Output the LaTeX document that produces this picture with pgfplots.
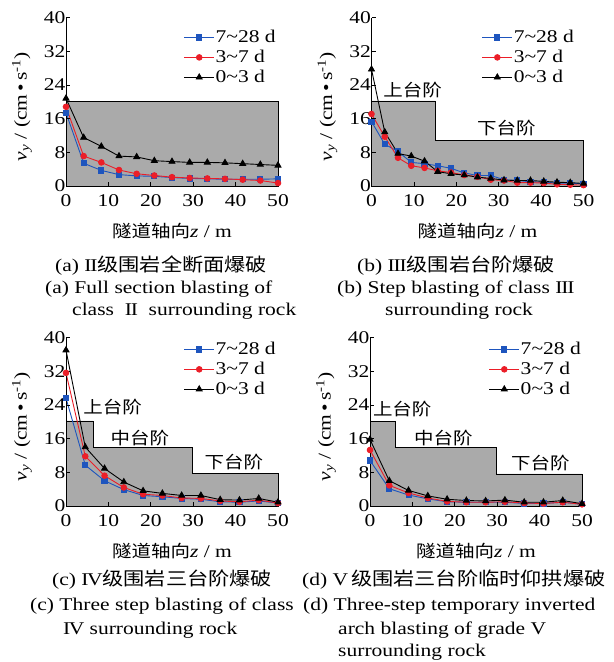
\documentclass[border=0pt]{standalone}
\usepackage{fontspec}
\setmainfont{Liberation Serif}[FakeStretch=1.2]
\newfontfamily\cjk{Noto Sans CJK SC}[FakeStretch=1.15]
\usepackage{pgfplots}
\pgfplotsset{compat=1.18}

\definecolor{serA}{RGB}{30,85,190}
\definecolor{serB}{RGB}{235,30,40}
\definecolor{zone}{RGB}{170,170,170}

\newcommand{\fs}{\fontsize{18}{21}\selectfont}
\newcommand{\fcjk}{\fontsize{17}{20}\selectfont\cjk}
\newcommand{\capcjk}{\fontsize{18.5}{21}\selectfont\cjk}
% serif roman numerals built from Latin capitals
\newcommand{\RII}{\mbox{I\kern-1.2bp I}}
\newcommand{\RIII}{\mbox{I\kern-1.2bp I\kern-1.2bp I}}
\newcommand{\RIV}{\mbox{I\kern-1.6bp V}}
\newcommand{\RV}{\mbox{V}}

\pgfplotsset{
  panel/.style={
    scale only axis, width=212bp, height=168.5bp,
    xmin=0, xmax=50, ymin=0, ymax=40,
    axis lines*=left, axis on top, clip=false,
    axis line style={line width=0.9bp, black},
    xtick={0,10,...,50}, ytick={0,8,...,40},
    tick align=inside, major tick length=4bp,
    tick style={line width=0.8bp, black},
    /pgf/number format/assume math mode=true,
    tick label style={font=\fs},
    xticklabel style={yshift=-5bp},
    yticklabel style={xshift=3bp},
    label style={font=\fs},
    xlabel={{\fcjk 隧道轴向}\textit{z} / m},
    ylabel={\textit{v}\textsubscript{\itshape y} / (cm\,•\,s\textsuperscript{-1})},
    xlabel style={at={(axis description cs:0.5,-0.267)}, anchor=center},
    ylabel style={at={(axis description cs:-0.208,0.47)}, anchor=center},
    legend style={draw=none, fill=none, anchor=north east, font=\fs,
      row sep=4bp, inner sep=0pt, nodes={inner sep=1bp}},
    legend cell align=left,
    legend image code/.code={
      \draw[mark repeat=2, mark phase=2]
        plot coordinates {(0bp,0bp) (15bp,0bp) (30bp,0bp)};},
  },
  lateage/.style={serA, line width=0.9bp, mark=square*, mark size=2.6bp, mark options={solid, fill=serA}},
  midage/.style={serB, line width=0.9bp, mark=*, mark size=2.8bp, mark options={solid, fill=serB}},
  earlyage/.style={black, line width=0.9bp, mark=triangle*, mark size=3.4bp, mark options={solid, fill=black}},
  zonefill/.style={fill=zone, draw=black, line width=0.8bp, forget plot},
}

\begin{document}
\begin{tikzpicture}[x=1bp, y=1bp]
\path[use as bounding box] (0,0) rectangle (614,-662);

% (a) full section blasting, class II
\begin{axis}[panel, at={(66bp,-186bp)}, anchor=south west,
  legend style={at={(axis description cs:0.995,0.93)}}]
  \addplot[zonefill] coordinates {(0,20) (50,20)} \closedcycle;
  \addplot[lateage] coordinates {
    (0,17.4) (4.1667,5.4) (8.3333,3.7) (12.5,2.7) (16.6667,2.4) (20.8333,2.3)
    (25,2.0) (29.1667,1.8) (33.3333,1.7) (37.5,1.6) (41.6667,1.6) (45.8333,1.6) (50,1.7)};
  \addplot[midage] coordinates {
    (0,18.8) (4.1667,7.1) (8.3333,5.6) (12.5,3.8) (16.6667,2.9) (20.8333,2.5)
    (25,2.1) (29.1667,1.9) (33.3333,1.8) (37.5,1.7) (41.6667,1.5) (45.8333,1.3) (50,0.7)};
  \addplot[earlyage] coordinates {
    (0,20.8) (4.1667,11.5) (8.3333,9.4) (12.5,7.1) (16.6667,6.9) (20.8333,6.0)
    (25,5.8) (29.1667,5.6) (33.3333,5.6) (37.5,5.5) (41.6667,5.3) (45.8333,5.1) (50,4.9)};
  \legend{7\textasciitilde 28 d, 3\textasciitilde 7 d, 0\textasciitilde 3 d}
\end{axis}

% (b) step blasting, class III
\begin{axis}[panel, at={(371.5bp,-186bp)}, anchor=south west,
  legend style={at={(axis description cs:0.96,0.93)}}]
  \addplot[zonefill] coordinates {(0,20.2) (15,20.2) (15,10.8) (50,10.8)} \closedcycle;
  \addplot[lateage] coordinates {
    (0,15.3) (3.125,9.9) (6.25,8.2) (9.375,5.6) (12.5,5.3) (15.625,4.8) (18.75,4.2)
    (21.875,3.1) (25,2.5) (28.125,2.5) (31.25,1.5) (34.375,1.3) (37.5,1.0)
    (40.625,0.9) (43.75,0.7) (46.875,0.7) (50,0.5)};
  \addplot[midage] coordinates {
    (0,17.1) (3.125,11.7) (6.25,6.7) (9.375,4.8) (12.5,4.3) (15.625,3.6) (18.75,3.2)
    (21.875,2.6) (25,2.2) (28.125,1.5) (31.25,1.3) (34.375,0.8) (37.5,0.8)
    (40.625,0.7) (43.75,0.4) (46.875,0.3) (50,0.2)};
  \addplot[earlyage] coordinates {
    (0,27.7) (3.125,12.8) (6.25,7.7) (9.375,7.1) (12.5,5.9) (15.625,3.4) (18.75,2.9)
    (21.875,2.6) (25,2.1) (28.125,1.8) (31.25,1.4) (34.375,1.3) (37.5,1.3)
    (40.625,1.1) (43.75,0.9) (46.875,0.8) (50,0.6)};
  \legend{7\textasciitilde 28 d, 3\textasciitilde 7 d, 0\textasciitilde 3 d}
  \node[font=\fcjk] at (axis cs:9.7,22.8) {上台阶};
  \node[font=\fcjk] at (axis cs:31.8,13.7) {下台阶};
\end{axis}

% (c) three-step blasting, class IV
\begin{axis}[panel, at={(66bp,-506bp)}, anchor=south west,
  legend style={at={(axis description cs:0.995,0.978)}}]
  \addplot[zonefill] coordinates {(0,20.2) (6.4,20.2) (6.4,13.8) (29.9,13.8) (29.9,7.7) (50,7.7)} \closedcycle;
  \addplot[lateage] coordinates {
    (0,25.6) (4.545,9.7) (9.091,6.0) (13.636,3.9) (18.182,2.5) (22.727,2.2)
    (27.273,1.8) (31.818,1.6) (36.364,1.0) (40.909,0.9) (45.455,1.2) (50,0.7)};
  \addplot[midage] coordinates {
    (0,31.6) (4.545,11.8) (9.091,7.2) (13.636,4.4) (18.182,2.8) (22.727,2.5)
    (27.273,1.9) (31.818,1.8) (36.364,1.2) (40.909,1.0) (45.455,1.4) (50,0.7)};
  \addplot[earlyage] coordinates {
    (0,37.0) (4.545,14.0) (9.091,8.9) (13.636,5.7) (18.182,3.6) (22.727,3.0)
    (27.273,2.5) (31.818,2.5) (36.364,1.5) (40.909,1.4) (45.455,1.8) (50,0.9)};
  \legend{7\textasciitilde 28 d, 3\textasciitilde 7 d, 0\textasciitilde 3 d}
  \node[font=\fcjk] at (axis cs:11.0,23.6) {上台阶};
  \node[font=\fcjk] at (axis cs:17.4,16.2) {中台阶};
  \node[font=\fcjk] at (axis cs:39.6,10.5) {下台阶};
\end{axis}

% (d) three-step temporary inverted arch blasting, grade V
\begin{axis}[panel, at={(370bp,-506bp)}, anchor=south west,
  legend style={at={(axis description cs:1.0,0.978)}}]
  \addplot[zonefill] coordinates {(0,20.1) (6.1,20.1) (6.1,13.8) (29.9,13.8) (29.9,7.6) (50,7.6)} \closedcycle;
  \addplot[lateage] coordinates {
    (0,10.8) (4.545,4.1) (9.091,2.6) (13.636,1.7) (18.182,1.0) (22.727,0.9)
    (27.273,0.9) (31.818,0.9) (36.364,0.6) (40.909,0.6) (45.455,0.9) (50,0.4)};
  \addplot[midage] coordinates {
    (0,13.3) (4.545,4.9) (9.091,3.1) (13.636,1.9) (18.182,1.1) (22.727,0.9)
    (27.273,0.9) (31.818,1.0) (36.364,0.7) (40.909,0.6) (45.455,0.9) (50,0.4)};
  \addplot[earlyage] coordinates {
    (0,15.8) (4.545,6.0) (9.091,3.7) (13.636,2.4) (18.182,1.6) (22.727,1.3)
    (27.273,1.2) (31.818,1.4) (36.364,0.9) (40.909,0.9) (45.455,1.3) (50,0.55)};
  \legend{7\textasciitilde 28 d, 3\textasciitilde 7 d, 0\textasciitilde 3 d}
  \node[font=\fcjk] at (axis cs:7.6,22.9) {上台阶};
  \node[font=\fcjk] at (axis cs:17.3,16.1) {中台阶};
  \node[font=\fcjk] at (axis cs:40.2,10.1) {下台阶};
\end{axis}

% captions
\begin{scope}[every node/.style={anchor=west, inner sep=0pt, font=\fs}]
  \node at (55,-266) {(a) \RII{\capcjk 级围岩全断面爆破}};
  \node at (45,-289) {(a) Full section blasting of};
  \node at (72,-311) {class~ \RII~ surrounding rock};
  \node at (357,-266) {(b) \RIII{\capcjk 级围岩台阶爆破}};
  \node at (337,-289) {(b) Step blasting of class \RIII};
  \node at (385,-311) {surrounding rock};
  \node at (52,-580) {(c) \RIV{\capcjk 级围岩三台阶爆破}};
  \node at (30,-606) {(c) Three step blasting of class};
  \node at (63,-630) {\RIV\ surrounding rock};
  \node at (302,-580) {(d) \RV\,{\capcjk 级围岩三台阶临时仰拱爆破}};
  \node at (303,-606) {(d) Three-step temporary inverted};
  \node at (338,-630) {arch blasting of grade \RV};
  \node at (338,-652) {surrounding rock};
\end{scope}
\end{tikzpicture}
\end{document}
